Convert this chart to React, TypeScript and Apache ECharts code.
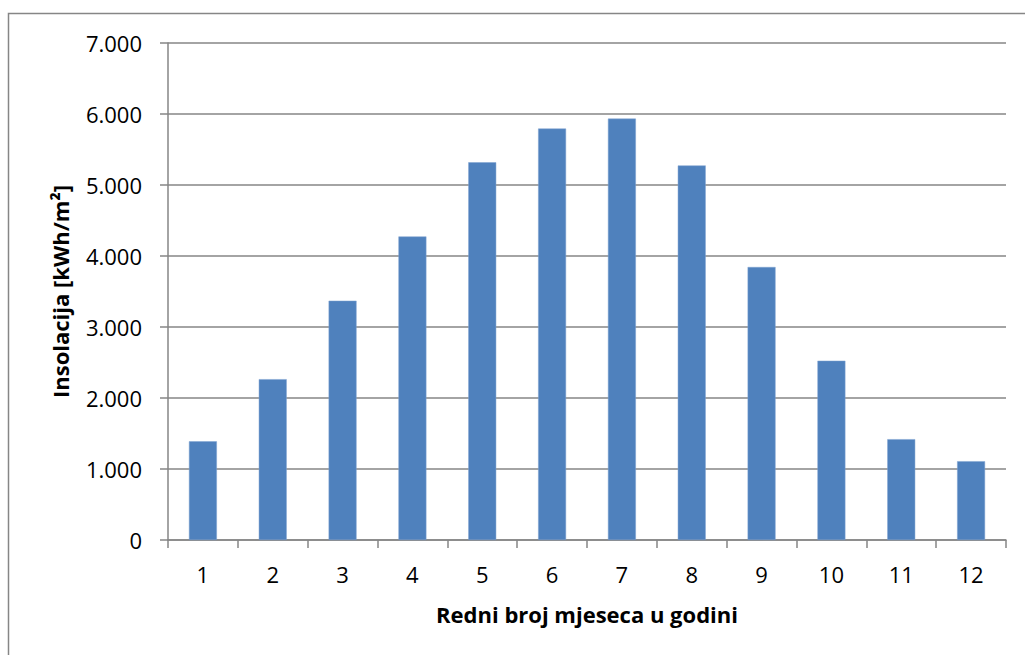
import React, { useEffect, useRef } from "react";
import * as echarts from "echarts";

const months: string[] = ["1", "2", "3", "4", "5", "6", "7", "8", "9", "10", "11", "12"];
const insolation: number[] = [1390, 2265, 3370, 4275, 5320, 5795, 5935, 5275, 3845, 2525, 1420, 1110];
const yTicks: number[] = [0, 1000, 2000, 3000, 4000, 5000, 6000, 7000];

const xTitle = "Redni broj mjeseca u godini";
const yTitle = "Insolacija [kWh/m²]";

const FONT = "'Open Sans', Calibri, sans-serif";
const GRAY = "#868686";

export default function App() {
  const ref = useRef<HTMLDivElement>(null);
  useEffect(() => {
    if (!ref.current) return;
    const chart = echarts.init(ref.current, undefined, { renderer: "svg" });
    chart.setOption({
      animation: false,
      backgroundColor: "#ffffff",
      textStyle: { fontFamily: FONT },
      graphic: [
        {
          type: "rect",
          shape: { x: 8.5, y: 13.5, width: 1040, height: 680 },
          style: { fill: "none", stroke: GRAY, lineWidth: 1.5 },
          silent: true,
        },
      ],
      grid: { left: 168, right: 19, top: 43, bottom: 115, containLabel: false },
      xAxis: {
        type: "category",
        data: months,
        boundaryGap: true,
        axisLine: { show: true, lineStyle: { color: GRAY, width: 1.5 } },
        axisTick: { show: true, length: 8, alignWithLabel: false, lineStyle: { color: GRAY, width: 1.5 } },
        axisLabel: { color: "#000000", fontSize: 22, fontFamily: FONT, margin: 23 },
        name: xTitle,
        nameLocation: "middle",
        nameGap: 63,
        nameTextStyle: { color: "#000000", fontSize: 22, fontWeight: "bold", fontFamily: FONT },
      },
      yAxis: {
        type: "value",
        min: yTicks[0],
        max: yTicks[yTicks.length - 1],
        interval: 1000,
        axisLine: { show: true, lineStyle: { color: GRAY, width: 1.5 } },
        axisTick: { show: true, length: 8, lineStyle: { color: GRAY, width: 1.5 } },
        splitLine: { show: true, lineStyle: { color: GRAY, width: 1.5 } },
        axisLabel: {
          color: "#000000",
          fontSize: 22,
          fontFamily: FONT,
          margin: 26,
          formatter: (v: number) => (v === 0 ? "0" : (v / 1000).toFixed(3)),
        },
        name: yTitle,
        nameLocation: "middle",
        nameRotate: 90,
        nameGap: 97,
        nameTextStyle: { color: "#000000", fontSize: 22, fontWeight: "bold", fontFamily: FONT },
      },
      series: [
        {
          type: "bar",
          data: insolation,
          barWidth: "40%",
          itemStyle: { color: "#4F81BD", borderColor: "#7FA3D0", borderWidth: 0.5 },
        },
      ],
    });
    return () => chart.dispose();
  }, []);
  return <div ref={ref} style={{ width: 1025, height: 655, position: "absolute", left: 0, top: 0 }} />;
}
